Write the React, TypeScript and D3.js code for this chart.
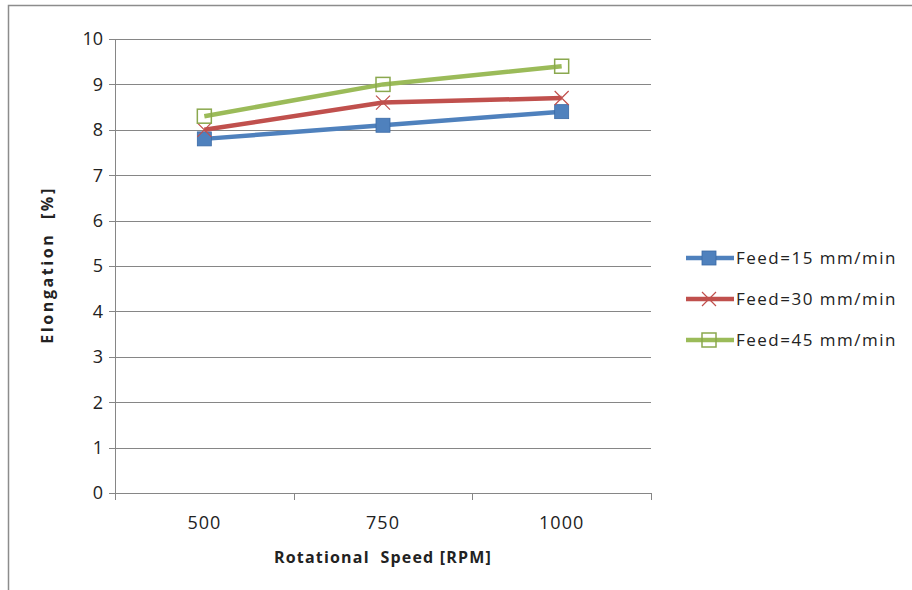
import React, { useEffect, useRef } from "react";
import * as d3 from "d3";

const categories = ["500", "750", "1000"];
const feed15 = [7.8, 8.1, 8.4];
const feed30 = [8.0, 8.6, 8.7];
const feed45 = [8.3, 9.0, 9.4];
const seriesNames = ["Feed=15 mm/min", "Feed=30 mm/min", "Feed=45 mm/min"];
const yTicks = [0, 1, 2, 3, 4, 5, 6, 7, 8, 9, 10];

const colors = ["#4F81BD", "#C0504D", "#9BBB59"];
const markers = ["square", "x", "open"];

export default function App() {
  const ref = useRef<SVGSVGElement>(null);
  useEffect(() => {
    const svg = d3.select(ref.current);
    svg.selectAll("*").remove();
    const font = "'Open Sans', 'Noto Sans', sans-serif";
    const left = 115, right = 651, top = 39, bottom = 493;
    const x = d3.scaleBand().domain(categories).range([left, right]);
    const y = d3.scaleLinear().domain([0, 10]).range([bottom, top]);

    svg.append("rect").attr("width", 912).attr("height", 590).attr("fill", "#fff");
    svg.append("path").attr("d", "M8.5,600 V5.5 H920").attr("fill", "none").attr("stroke", "#8c8c8c").attr("stroke-width", 1.5);

    svg.append("g").selectAll("line").data(yTicks.filter(d => d > 0)).join("line")
      .attr("x1", left).attr("x2", right)
      .attr("y1", d => Math.round(y(d)) + 0.5).attr("y2", d => Math.round(y(d)) + 0.5)
      .attr("stroke", "#868686").attr("stroke-width", 1);
    svg.append("line").attr("x1", left + 0.5).attr("x2", left + 0.5).attr("y1", top).attr("y2", bottom).attr("stroke", "#868686");
    svg.append("g").selectAll("line").data(yTicks).join("line")
      .attr("x1", left - 6).attr("x2", left)
      .attr("y1", d => Math.round(y(d)) + 0.5).attr("y2", d => Math.round(y(d)) + 0.5)
      .attr("stroke", "#868686");
    svg.append("g").selectAll("text").data(yTicks).join("text")
      .attr("x", 103).attr("y", d => y(d)).attr("dy", "0.35em")
      .attr("text-anchor", "end").attr("font-family", font).attr("font-size", 18).attr("fill", "#222")
      .text(d => String(d));
    svg.append("line").attr("x1", left).attr("x2", right).attr("y1", bottom + 0.5).attr("y2", bottom + 0.5).attr("stroke", "#868686");
    const bounds = [left, ...categories.map(c => (x(c) as number) + x.bandwidth())];
    svg.append("g").selectAll("line").data(bounds).join("line")
      .attr("x1", d => Math.round(d) + 0.5).attr("x2", d => Math.round(d) + 0.5)
      .attr("y1", bottom).attr("y2", bottom + 7).attr("stroke", "#868686");
    svg.append("g").selectAll("text").data(categories).join("text")
      .attr("x", d => (x(d) as number) + x.bandwidth() / 2).attr("y", 523).attr("dy", "0.35em")
      .attr("text-anchor", "middle").attr("font-family", font).attr("font-size", 18).attr("letter-spacing", 1).attr("fill", "#222")
      .text(d => d);

    svg.append("text").attr("x", (left + right) / 2).attr("y", 557).attr("dy", "0.35em")
      .attr("text-anchor", "middle").attr("font-family", font).attr("font-size", 16).attr("font-weight", "bold").attr("letter-spacing", 1.2).attr("fill", "#222")
      .attr("xml:space", "preserve").style("white-space", "pre")
      .text("Rotational  Speed [RPM]");
    svg.append("text").attr("transform", "translate(47,265) rotate(-90)").attr("dy", "0.35em")
      .attr("text-anchor", "middle").attr("font-family", font).attr("font-size", 16).attr("font-weight", "bold").attr("letter-spacing", 2.6).attr("fill", "#222")
      .style("white-space", "pre")
      .text("Elongation  [%]");

    const all = [feed15, feed30, feed45];
    const line = d3.line<number>().x((_, i) => (x(categories[i]) as number) + x.bandwidth() / 2).y(d => y(d));

    const drawMarker = (g: any, kind: string, color: string, cx: number, cy: number) => {
      if (kind === "square") {
        g.append("rect").attr("x", cx - 7).attr("y", cy - 7).attr("width", 14).attr("height", 14).attr("fill", color).attr("stroke", "#3a6aa6").attr("stroke-width", 0.8);
      } else if (kind === "x") {
        g.append("path").attr("d", `M${cx - 7},${cy - 7}L${cx + 7},${cy + 7}M${cx - 7},${cy + 7}L${cx + 7},${cy - 7}`).attr("stroke", color).attr("stroke-width", 1.2).attr("fill", "none");
      } else {
        g.append("rect").attr("x", cx - 7).attr("y", cy - 7).attr("width", 14).attr("height", 14).attr("fill", "none").attr("stroke", "#8aa84e").attr("stroke-width", 1.5);
      }
    };

    all.forEach((vals, si) => {
      const g = svg.append("g");
      g.append("path").attr("d", line(vals)).attr("fill", "none").attr("stroke", colors[si]).attr("stroke-width", 4.5).attr("stroke-linejoin", "round");
      vals.forEach((v, i) => drawMarker(g, markers[si], colors[si], (x(categories[i]) as number) + x.bandwidth() / 2, y(v)));
    });

    const legY = [258, 299, 340];
    seriesNames.forEach((name, si) => {
      const g = svg.append("g");
      const ly = legY[si];
      g.append("line").attr("x1", 686).attr("x2", 734).attr("y1", ly).attr("y2", ly).attr("stroke", colors[si]).attr("stroke-width", 4.5);
      drawMarker(g, markers[si], colors[si], 709, ly);
      g.append("text").attr("x", 736).attr("y", ly).attr("dy", "0.35em").attr("font-family", font).attr("font-size", 17).attr("letter-spacing", 1.5).attr("fill", "#222").text(name);
    });
  }, []);
  return <svg ref={ref} width={912} height={590} style={{ position: "absolute", left: 0, top: 0 }} />;
}
